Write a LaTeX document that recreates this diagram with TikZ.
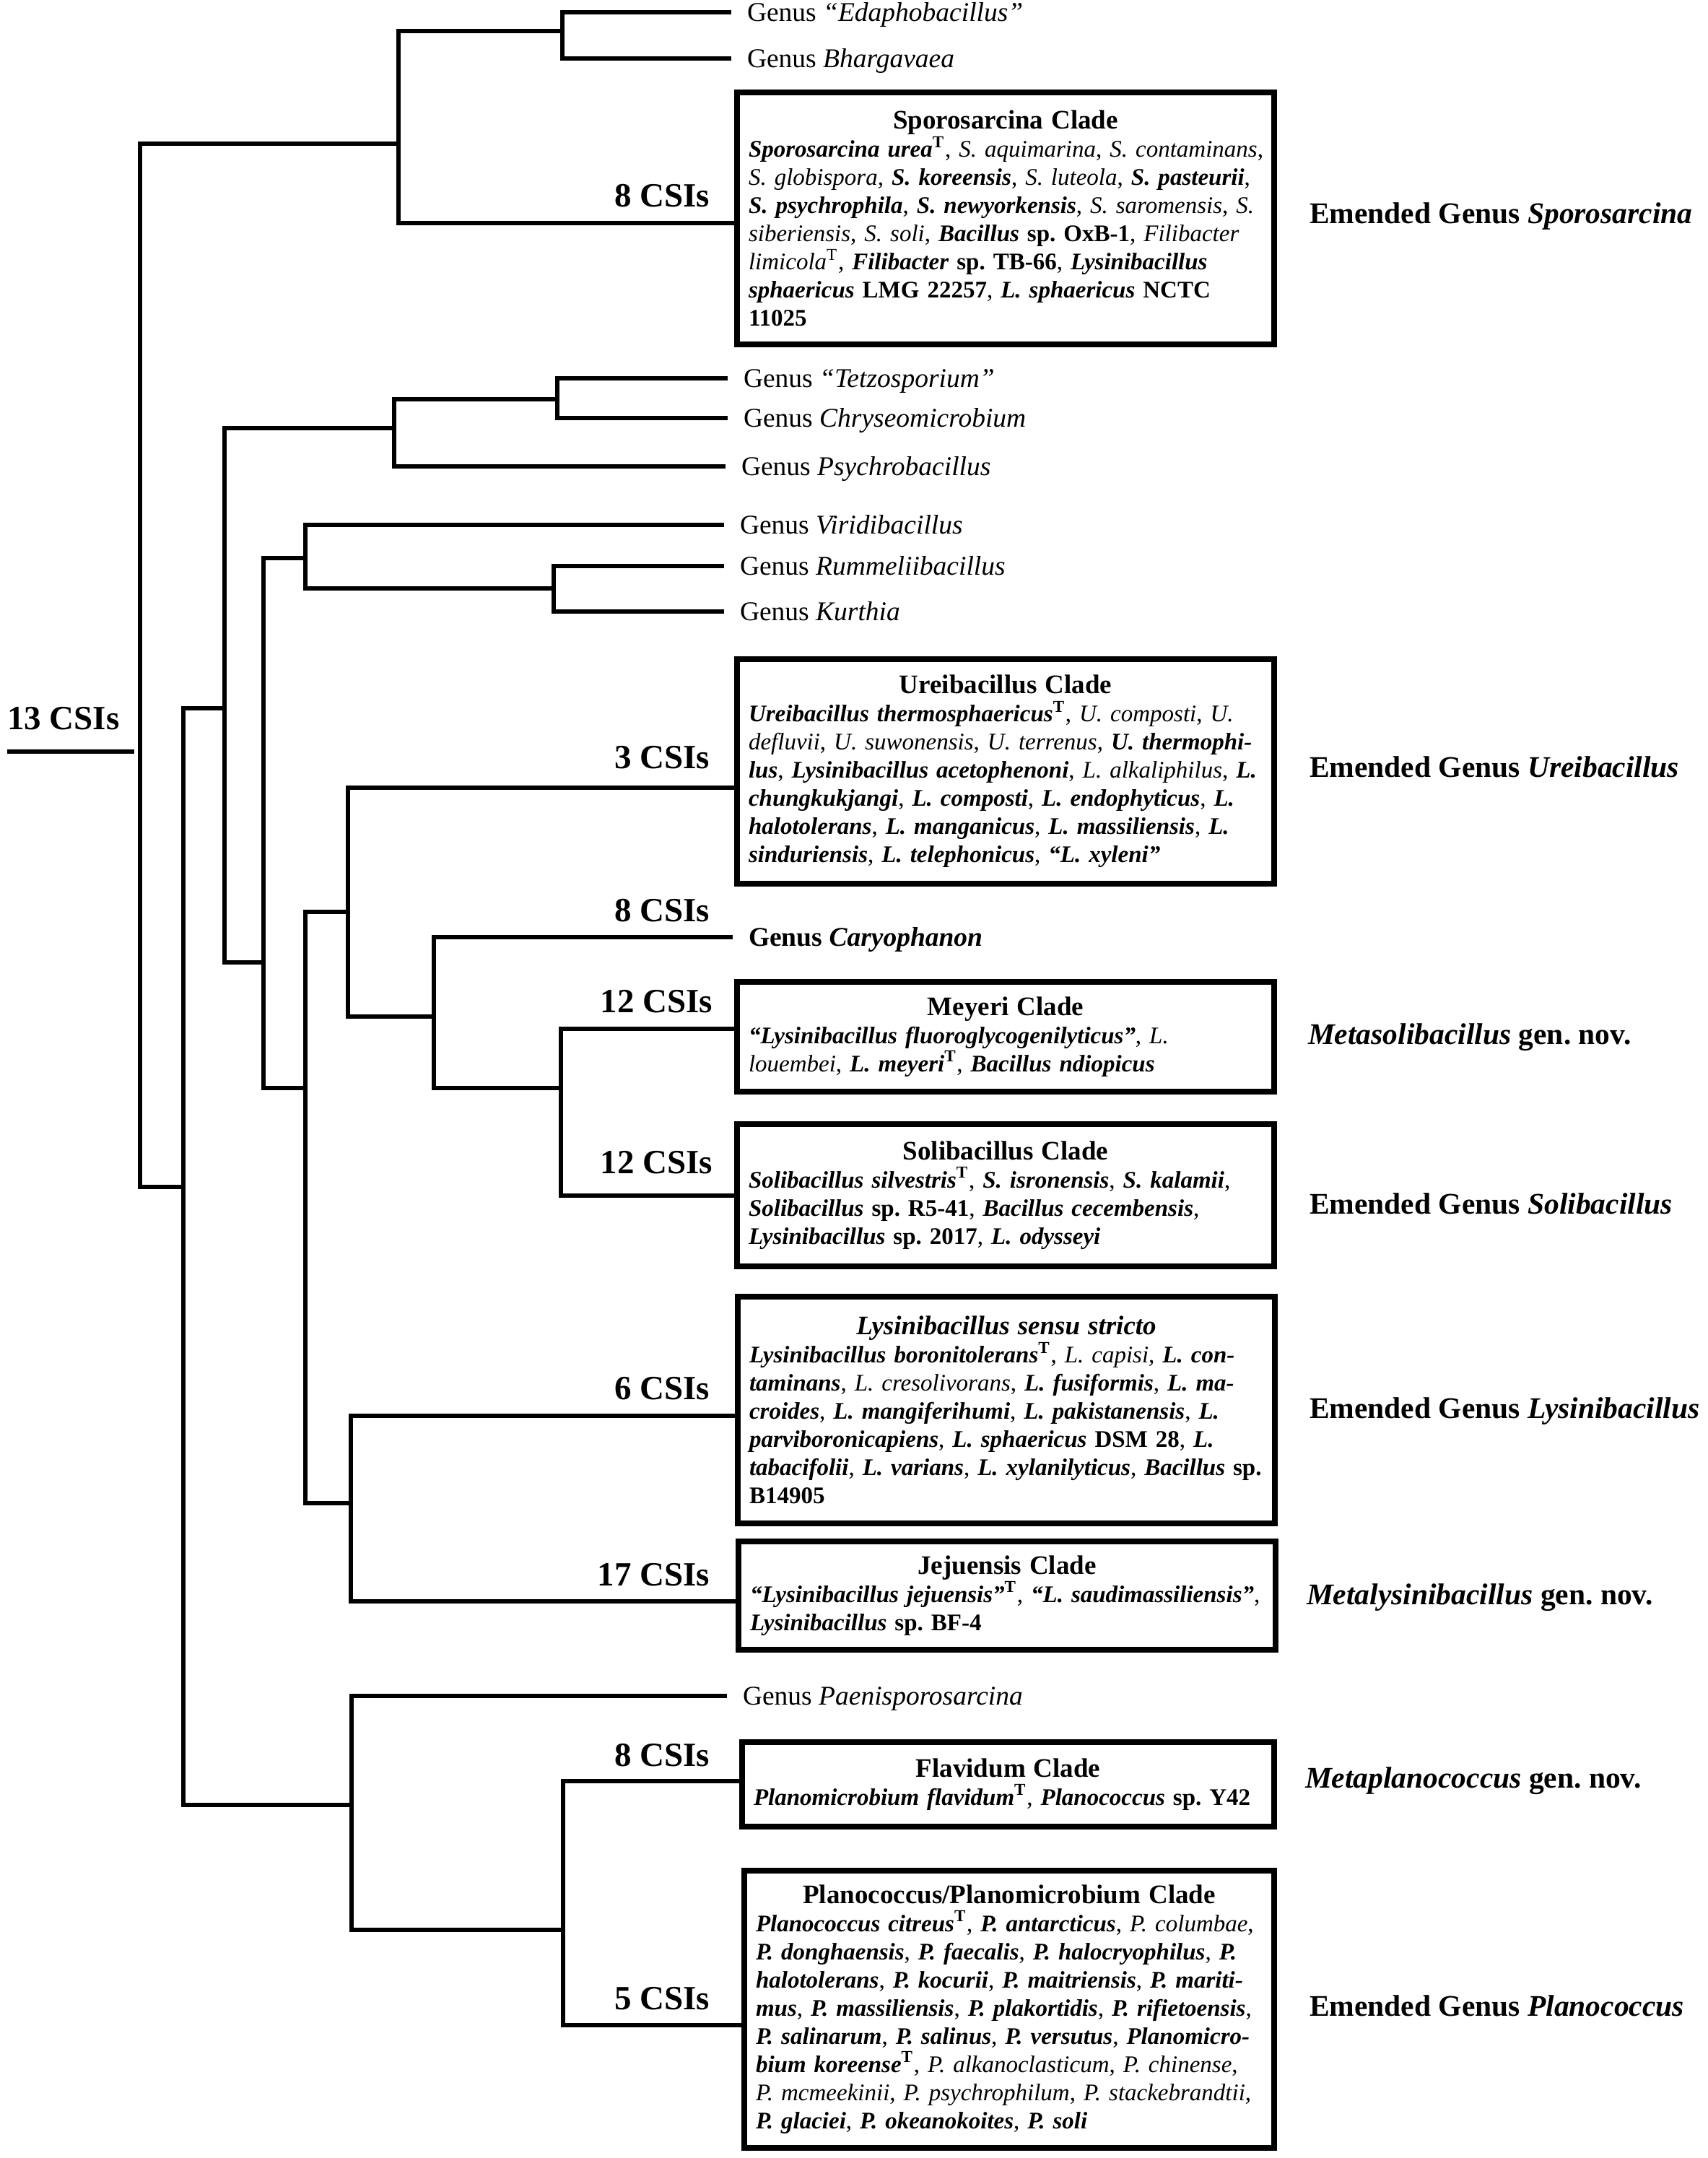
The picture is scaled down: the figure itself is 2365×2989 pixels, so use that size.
\documentclass[tikz,border=0pt]{standalone}
\usepackage{fontspec}
\setmainfont{Liberation Serif}
\usetikzlibrary{calc}
\frenchspacing
\newcommand{\myleaf}{\fontsize{10.67pt}{12.8pt}\selectfont}
\newcommand{\mybody}{\fontsize{9.39pt}{11.10pt}\selectfont}
\newcommand{\mytitle}{\fontsize{10.53pt}{11.10pt}\selectfont\bfseries}
\newcommand{\mycsi}{\fontsize{13.37pt}{16pt}\selectfont\bfseries}
\newcommand{\mygen}{\fontsize{11.81pt}{14pt}\selectfont\bfseries}
\newcommand{\bi}[1]{\textbf{\textit{#1}}}
\newcommand{\ii}[1]{\textit{#1}}
\newcommand{\bT}{\textsuperscript{\textbf{T}}}
\newcommand{\rT}{\textsuperscript{T}}
\begin{document}
\frenchspacing
\begin{tikzpicture}[x=0.1mm,y=-0.1mm,
  every node/.style={outer sep=0pt},
  tree/.style={line width=0.62mm, line join=miter},
  cladebox/.style={draw, line width=0.75mm, inner xsep=1.6mm, inner ysep=0mm,
     text width=71.2mm, anchor=north west, font=\mybody},
  leaflab/.style={anchor=west, inner xsep=2.2mm, inner ysep=0pt,
     text height=2.48mm, text depth=0pt, font=\myleaf},
  csi/.style={anchor=east, inner sep=0pt, text height=3.15mm, text depth=0pt, font=\mycsi},
  gen/.style={anchor=west, inner sep=0pt, text height=2.75mm, text depth=0pt, font=\mygen}]
\path[fill=white, use as bounding box] (0,0) rectangle (2365,2989);

% ---------- tree junctions ----------
\coordinate (r0) at (10,1041);
\coordinate (r1) at (186,1041);
\coordinate (R) at (194,1041);
\coordinate (A) at (552,199);
\coordinate (A1) at (779,43);
\coordinate (B) at (254,1644);
\coordinate (C) at (311,981);
\coordinate (C1) at (546,593);
\coordinate (C2) at (772,553);
\coordinate (D) at (365,1333);
\coordinate (E) at (423,773);
\coordinate (E1) at (767,815);
\coordinate (F) at (423,1507);
\coordinate (G) at (482,1263);
\coordinate (H) at (601,1408);
\coordinate (I) at (777,1507);
\coordinate (J) at (486,2082);
\coordinate (K) at (487,2500);
\coordinate (L) at (780,2673);

% ---------- leaf labels ----------
\node[leaflab] (edapho) at (1013,17) {Genus \ii{“Edaphobacillus”}};
\node[leaflab] (bharg) at (1013,81) {Genus \ii{Bhargavaea}};
\node[leaflab] (tetzo) at (1008,524) {Genus \ii{“Tetzosporium”}};
\node[leaflab] (chryseo) at (1008,579) {Genus \ii{Chryseomicrobium}};
\node[leaflab] (psychro) at (1005,646) {Genus \ii{Psychrobacillus}};
\node[leaflab] (viridi) at (1003,727) {Genus \ii{Viridibacillus}};
\node[leaflab] (rummel) at (1003,784) {Genus \ii{Rummeliibacillus}};
\node[leaflab] (kurthia) at (1003,847) {Genus \ii{Kurthia}};
\node[leaflab] (caryo) at (1015,1298) {\textbf{Genus \textit{Caryophanon}}};
\node[leaflab] (paeni) at (1007,2349) {Genus \ii{Paenisporosarcina}};

% ---------- clade boxes ----------
\node[cladebox, minimum height=34.9mm] (sbox) at (1021,128) {\centering{\mytitle Sporosarcina Clade}\par\raggedright
\mbox{\bi{Sporosarcina urea}\bT, \ii{S. aquimarina}, \ii{S. contaminans},}\\
\mbox{\ii{S. globispora,} \bi{S. koreensis}, \ii{S. luteola}, \bi{S. pasteurii},}\\
\mbox{\bi{S. psychrophila}, \bi{S. newyorkensis}, \ii{S. saromensis}, \ii{S.}}\\
\mbox{\ii{siberiensis}, \ii{S. soli}, \textbf{\textit{Bacillus} sp. OxB-1}, \ii{Filibacter}}\\
\mbox{\ii{limicola}\rT, \textbf{\textit{Filibacter} sp. TB-66}, \bi{Lysinibacillus}}\\
\mbox{\bi{sphaericus} \textbf{LMG 22257}, \bi{L. sphaericus} \textbf{NCTC}}\\
\mbox{\textbf{11025}}};

\node[cladebox, minimum height=31.1mm] (ubox) at (1021,913) {\centering{\mytitle Ureibacillus Clade}\par\raggedright
\mbox{\bi{Ureibacillus thermosphaericus}\bT, \ii{U. composti}, \ii{U.}}\\
\mbox{\ii{defluvii}, \ii{U. suwonensis}, \ii{U. terrenus}, \bi{U. thermophi-}}\\
\mbox{\bi{lus}, \bi{Lysinibacillus acetophenoni}, \ii{L. alkaliphilus}, \bi{L.}}\\
\mbox{\bi{chungkukjangi}, \bi{L. composti}, \bi{L. endophyticus}, \bi{L.}}\\
\mbox{\bi{halotolerans}, \bi{L. manganicus}, \bi{L. massiliensis}, \bi{L.}}\\
\mbox{\bi{sinduriensis}, \bi{L. telephonicus}, \bi{“L. xyleni”}}};

\node[cladebox, minimum height=15.2mm] (mbox) at (1021,1360) {\centering{\mytitle Meyeri Clade}\par\raggedright
\mbox{\bi{“Lysinibacillus fluoroglycogenilyticus”}, \ii{L.}}\\
\mbox{\ii{louembei}, \bi{L. meyeri}\bT, \bi{Bacillus ndiopicus}}};

\node[cladebox, minimum height=19.7mm] (solbox) at (1021,1557) {\centering{\mytitle Solibacillus Clade}\par\raggedright
\mbox{\bi{Solibacillus silvestris}\bT, \bi{S. isronensis}, \bi{S. kalamii},}\\
\mbox{\bi{Solibacillus} \textbf{sp. R5-41}, \bi{Bacillus cecembensis},}\\
\mbox{\bi{Lysinibacillus} \textbf{sp. 2017}, \bi{L. odysseyi}}};

\node[cladebox, minimum height=31.4mm] (lbox) at (1022,1796) {\centering{\mytitle\itshape Lysinibacillus sensu stricto}\par\raggedright
\mbox{\bi{Lysinibacillus boronitolerans}\bT, \ii{L. capisi,} \bi{L. con-}}\\
\mbox{\bi{taminans}, \ii{L. cresolivorans}, \bi{L. fusiformis}, \bi{L. ma-}}\\
\mbox{\bi{croides}, \bi{L. mangiferihumi}, \bi{L. pakistanensis}, \bi{L.}}\\
\mbox{\bi{parviboronicapiens}, \bi{L. sphaericus} \textbf{DSM 28}, \bi{L.}}\\
\mbox{\bi{tabacifolii}, \bi{L. varians}, \bi{L. xylanilyticus}, \bi{Bacillus} \textbf{sp.}}\\
\mbox{\textbf{B14905}}};

\node[cladebox, minimum height=15.0mm] (jbox) at (1023,2135) {\centering{\mytitle Jejuensis Clade}\par\raggedright
\mbox{\bi{“Lysinibacillus jejuensis”}\bT, \bi{“L. saudimassiliensis”},}\\
\mbox{\bi{Lysinibacillus} \textbf{sp. BF-4}}};

\node[cladebox, text width=70.5mm, minimum height=11.7mm] (fbox) at (1028,2413) {\centering{\mytitle Flavidum Clade}\par\raggedright
\mbox{\bi{Planomicrobium flavidum}\bT, \bi{Planococcus} \textbf{sp. Y42}}};

\node[cladebox, text width=70.2mm, minimum height=38.4mm] (pbox) at (1031,2591) {\centering{\mytitle Planococcus/Planomicrobium Clade}\par\raggedright
\mbox{\bi{Planococcus citreus}\bT, \bi{P. antarcticus}, \ii{P. columbae},}\\
\mbox{\bi{P. donghaensis}, \bi{P. faecalis}, \bi{P. halocryophilus}, \bi{P.}}\\
\mbox{\bi{halotolerans}, \bi{P. kocurii}, \bi{P. maitriensis}, \bi{P. mariti-}}\\
\mbox{\bi{mus}, \bi{P. massiliensis}, \bi{P. plakortidis}, \bi{P. rifietoensis},}\\
\mbox{\bi{P. salinarum}, \bi{P. salinus}, \bi{P. versutus}, \bi{Planomicro-}}\\
\mbox{\bi{bium koreense}\bT, \ii{P. alkanoclasticum}, \ii{P. chinense},}\\
\mbox{\ii{P. mcmeekinii}, \ii{P. psychrophilum}, \ii{P. stackebrandtii},}\\
\mbox{\bi{P. glaciei}, \bi{P. okeanokoites}, \bi{P. soli}}};

% ---------- box attachment points ----------
\coordinate (sL) at ($(sbox.north west)+(0,181)$);
\coordinate (uL) at ($(ubox.north west)+(0,178)$);
\coordinate (mL) at ($(mbox.north west)+(0,65)$);
\coordinate (solL) at ($(solbox.north west)+(0,99)$);
\coordinate (lL) at ($(lbox.north west)+(0,165)$);
\coordinate (jL) at ($(jbox.north west)+(0,83)$);
\coordinate (fL) at ($(fbox.north west)+(0,54)$);
\coordinate (pL) at ($(pbox.north west)+(0,214)$);

% ---------- branches ----------
\draw[tree] (r0) -- (r1);
\draw[tree] (R) |- (A);
\draw[tree] (R) |- (B);
\draw[tree] (A) |- (A1);
\draw[tree] (A) |- (sL);
\draw[tree] (A1) |- (edapho.west);
\draw[tree] (A1) |- (bharg.west);
\draw[tree] (B) |- (C);
\draw[tree] (B) |- (K);
\draw[tree] (C) |- (C1);
\draw[tree] (C) |- (D);
\draw[tree] (C1) |- (C2);
\draw[tree] (C1) |- (psychro.west);
\draw[tree] (C2) |- (tetzo.west);
\draw[tree] (C2) |- (chryseo.west);
\draw[tree] (D) |- (E);
\draw[tree] (D) |- (F);
\draw[tree] (E) |- (viridi.west);
\draw[tree] (E) |- (E1);
\draw[tree] (E1) |- (rummel.west);
\draw[tree] (E1) |- (kurthia.west);
\draw[tree] (F) |- (G);
\draw[tree] (F) |- (J);
\draw[tree] (G) |- (uL);
\draw[tree] (G) |- (H);
\draw[tree] (H) |- (caryo.west);
\draw[tree] (H) |- (I);
\draw[tree] (I) |- (mL);
\draw[tree] (I) |- (solL);
\draw[tree] (J) |- (lL);
\draw[tree] (J) |- (jL);
\draw[tree] (K) |- (paeni.west);
\draw[tree] (K) |- (L);
\draw[tree] (L) |- (fL);
\draw[tree] (L) |- (pL);

% ---------- CSI labels ----------
\node[anchor=west, inner sep=0pt, text height=3.15mm, text depth=0pt, font=\mycsi] (c13) at (10,995) {13 CSIs};
\node[csi] (cs1) at (983,271) {8 CSIs};
\node[csi] (cs2) at (983,1049) {3 CSIs};
\node[csi] (cs3) at (983,1261) {8 CSIs};
\node[csi] (cs4) at (987,1387) {12 CSIs};
\node[csi] (cs5) at (987,1610) {12 CSIs};
\node[csi] (cs6) at (983,1923) {6 CSIs};
\node[csi] (cs7) at (983,2181) {17 CSIs};
\node[csi] (cs8) at (983,2431) {8 CSIs};
\node[csi] (cs9) at (983,2768) {5 CSIs};

% ---------- genus labels ----------
\node[gen] (g1) at (1814,296) {Emended Genus \textit{Sporosarcina}};
\node[gen] (g2) at (1814,1063) {Emended Genus \textit{Ureibacillus}};
\node[gen] (g3) at (1812,1433) {\textit{Metasolibacillus} gen. nov.};
\node[gen] (g4) at (1814,1668) {Emended Genus \textit{Solibacillus}};
\node[gen] (g5) at (1814,1951) {Emended Genus \textit{Lysinibacillus}};
\node[gen] (g6) at (1810,2209) {\textit{Metalysinibacillus} gen. nov.};
\node[gen] (g7) at (1808,2463) {\textit{Metaplanococcus} gen. nov.};
\node[gen] (g8) at (1814,2779) {Emended Genus \textit{Planococcus}};
\end{tikzpicture}
\end{document}
